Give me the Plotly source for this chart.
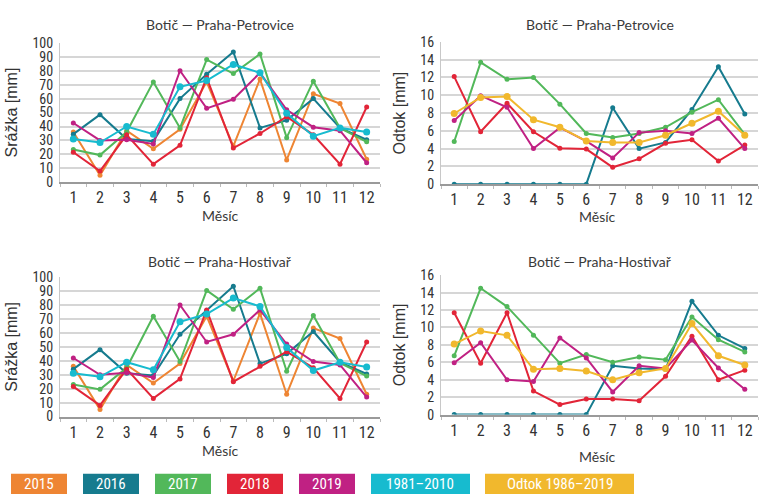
import plotly.graph_objects as go

months = list(range(1, 13))

# Srážka – Praha-Petrovice
pet_s_2015 = [36, 5, 37, 24, 38, 72, 26, 74, 16, 63.5, 56.5, 16.5]
pet_s_2016 = [34.5, 48.5, 31, 29.5, 60, 77.5, 93.5, 39, 44.5, 60, 39, 30.5]
pet_s_2017 = [23.5, 19.5, 36, 72, 39, 88, 78, 92, 32, 72.5, 39, 29]
pet_s_2018 = [21.5, 8, 34, 13, 26.5, 75, 24.5, 35, 47, 34, 13, 54]
pet_s_2019 = [42.5, 30, 30.5, 27.5, 80, 53, 59.5, 78.5, 52, 39.5, 37, 14]
pet_s_norm = [31, 28.5, 40, 34.5, 68.5, 73, 84.5, 78.5, 49.5, 33, 39, 36]

# Odtok – Praha-Petrovice
pet_o_2016 = [0, 0, 0, 0, 0, 0, 8.6, 4.0, 4.7, 8.4, 13.2, 7.9]
pet_o_2017 = [4.8, 13.7, 11.8, 12.0, 9.0, 5.7, 5.25, 5.7, 6.4, 8.1, 9.5, 5.6]
pet_o_2018 = [12.1, 5.9, 9.1, 5.9, 4.05, 3.95, 1.9, 2.85, 4.6, 5.0, 2.6, 4.4]
pet_o_2019 = [7.15, 9.95, 8.65, 4.0, 6.35, 4.85, 2.95, 5.8, 6.0, 5.7, 7.4, 4.0]
pet_o_norm = [7.95, 9.75, 9.85, 7.25, 6.4, 4.85, 4.7, 4.7, 5.5, 6.85, 8.2, 5.5]

# Srážka – Praha-Hostivař
hos_s_2015 = [36, 5, 37, 24, 38, 72, 25.5, 74, 16, 63.5, 56, 16]
hos_s_2016 = [34, 48, 31, 29.5, 59, 76, 93.5, 38, 45, 61, 39, 30.5]
hos_s_2017 = [23, 19.5, 35, 72, 39.5, 90.5, 77, 92, 32.5, 72.5, 38.5, 29]
hos_s_2018 = [21.5, 8, 34, 13, 27, 76.5, 25, 36, 46.5, 35, 13, 53.5]
hos_s_2019 = [42, 30, 31.5, 28, 80, 53.5, 59, 76.5, 52, 39.5, 37, 14]
hos_s_norm = [31, 28.5, 39, 33.5, 68, 73.5, 85, 79, 49.5, 33, 39, 35.5]

# Odtok – Praha-Hostivař
hos_o_2016 = [0, 0, 0, 0, 0, 0, 5.6, 5.3, 5.2, 13.0, 9.1, 7.6]
hos_o_2017 = [6.75, 14.5, 12.4, 9.1, 5.9, 6.9, 6.0, 6.6, 6.3, 11.2, 8.6, 7.2]
hos_o_2018 = [11.7, 5.9, 11.7, 2.7, 1.15, 1.8, 1.8, 1.6, 4.4, 9.0, 4.0, 5.1]
hos_o_2019 = [5.95, 8.25, 4.0, 3.8, 8.8, 6.5, 2.6, 5.6, 5.3, 8.55, 5.35, 2.9]
hos_o_norm = [8.1, 9.6, 9.1, 5.2, 5.3, 5.0, 4.0, 4.8, 5.3, 10.45, 6.75, 5.7]

legend_labels = ["2015", "2016", "2017", "2018", "2019", "1981–2010", "Odtok 1986–2019"]
colors = ["#EE8533", "#167B8E", "#52B85A", "#E22538", "#C02183", "#17BBCF", "#F1B82D"]
C = dict(zip(legend_labels, colors))

titles = ["Botič — Praha-Petrovice", "Botič — Praha-Petrovice",
          "Botič — Praha-Hostivař", "Botič — Praha-Hostivař"]

fig = go.Figure()

def add(x_ax, y_ax, y, label, big=False):
    fig.add_trace(go.Scatter(
        x=months, y=y, mode="lines+markers", xaxis=x_ax, yaxis=y_ax,
        line=dict(color=C[label], width=2),
        marker=dict(color=C[label], size=7 if big else 5),
        showlegend=False, name=label))

# panel 1
for y, lab in [(pet_s_2015, "2015"), (pet_s_2016, "2016"), (pet_s_2017, "2017"),
               (pet_s_2018, "2018"), (pet_s_2019, "2019")]:
    add("x", "y", y, lab)
add("x", "y", pet_s_norm, "1981–2010", big=True)
# panel 2
for y, lab in [(pet_o_2016, "2016"), (pet_o_2017, "2017"), (pet_o_2018, "2018"),
               (pet_o_2019, "2019")]:
    add("x2", "y2", y, lab)
add("x2", "y2", pet_o_norm, "Odtok 1986–2019", big=True)
# panel 3
for y, lab in [(hos_s_2015, "2015"), (hos_s_2016, "2016"), (hos_s_2017, "2017"),
               (hos_s_2018, "2018"), (hos_s_2019, "2019")]:
    add("x3", "y3", y, lab)
add("x3", "y3", hos_s_norm, "1981–2010", big=True)
# panel 4
for y, lab in [(hos_o_2016, "2016"), (hos_o_2017, "2017"), (hos_o_2018, "2018"),
               (hos_o_2019, "2019")]:
    add("x4", "y4", y, lab)
add("x4", "y4", hos_o_norm, "Odtok 1986–2019", big=True)

W, H = 759, 502
def px(x):
    return x / W
def py(y):
    return 1 - y / H

narrow = "Liberation Sans Narrow, Roboto Condensed, Arial Narrow, sans-serif"
tickfont = dict(family=narrow, size=14, color="#333333")
titlefont = dict(family="Lato, Open Sans, sans-serif", size=14, color="#3a3a3a")

panels = [
    # (x0, x1, ytop, ybottom, ymax, dtick, ytitle)
    (60, 380, 36, 180, 100, 10, "Srážka [mm]"),
    (441, 758, 35, 182, 16, 2, "Odtok [mm]"),
    (60, 380, 278, 422, 100, 10, "Srážka [mm]"),
    (441, 758, 276, 420, 16, 2, "Odtok [mm]"),
]
xlab_y = [214, 215, 457, 463]
for i, (x0, x1, yt, yb, ymax, dt, ytitle) in enumerate(panels):
    s = "" if i == 0 else str(i + 1)
    fig.layout["xaxis" + s] = dict(
        domain=[px(x0), px(x1)], anchor="y" + s, range=[0.5, 12.5],
        tickvals=months, ticktext=[str(m) for m in months], ticks="",
        showgrid=False, zeroline=False, showline=True, linecolor="#9a9a9a",
        linewidth=2, tickfont=dict(family=narrow, size=16, color="#333333"),
        minor=dict(tick0=0.5, dtick=1, ticks="outside", ticklen=3,
                   tickcolor="#bbbbbb", showgrid=False))
    fig.layout["yaxis" + s] = dict(
        domain=[py(yb), py(yt)], anchor="x" + s, range=[0, ymax],
        dtick=dt, tick0=0, showgrid=True, gridcolor="#d6d6d6", gridwidth=2,
        zeroline=False, showline=True, linecolor="#c8c8c8", linewidth=1,
        ticks="", tickfont=tickfont, ticklabelstandoff=3,
        title=dict(text=ytitle, font=dict(family="Liberation Sans, Arial, sans-serif",
                                           size=16, color="#333333"), standoff=10))
    fig.add_annotation(text=titles[i], xref="paper", yref="paper",
                       x=px((x0 + x1) / 2), y=py(17 if i < 2 else 262),
                       showarrow=False, font=titlefont, xanchor="center", yanchor="middle")
    fig.add_annotation(text="Měsíc", xref="paper", yref="paper",
                       x=px((x0 + x1) / 2 + (0 if i % 2 == 0 else -2)), y=py(xlab_y[i]),
                       showarrow=False, font=titlefont, xanchor="center", yanchor="middle")

# custom legend boxes
boxes = [(11, 67), (83, 139), (155, 211), (227, 283), (299, 355), (371, 470), (485, 634)]
for (bx0, bx1), lab in zip(boxes, legend_labels):
    fig.add_shape(type="rect", xref="paper", yref="paper",
                  x0=px(bx0), x1=px(bx1), y0=py(502), y1=py(481),
                  fillcolor=C[lab], line=dict(width=0))
    fig.add_annotation(text=lab, xref="paper", yref="paper",
                       x=px((bx0 + bx1) / 2), y=py(491.5), showarrow=False,
                       font=dict(family=narrow, size=15, color="white"),
                       xanchor="center", yanchor="middle")

fig.update_layout(width=W, height=H, margin=dict(l=0, r=0, t=0, b=0),
                  plot_bgcolor="white", paper_bgcolor="white", showlegend=False)

fig.write_html("out.html")
